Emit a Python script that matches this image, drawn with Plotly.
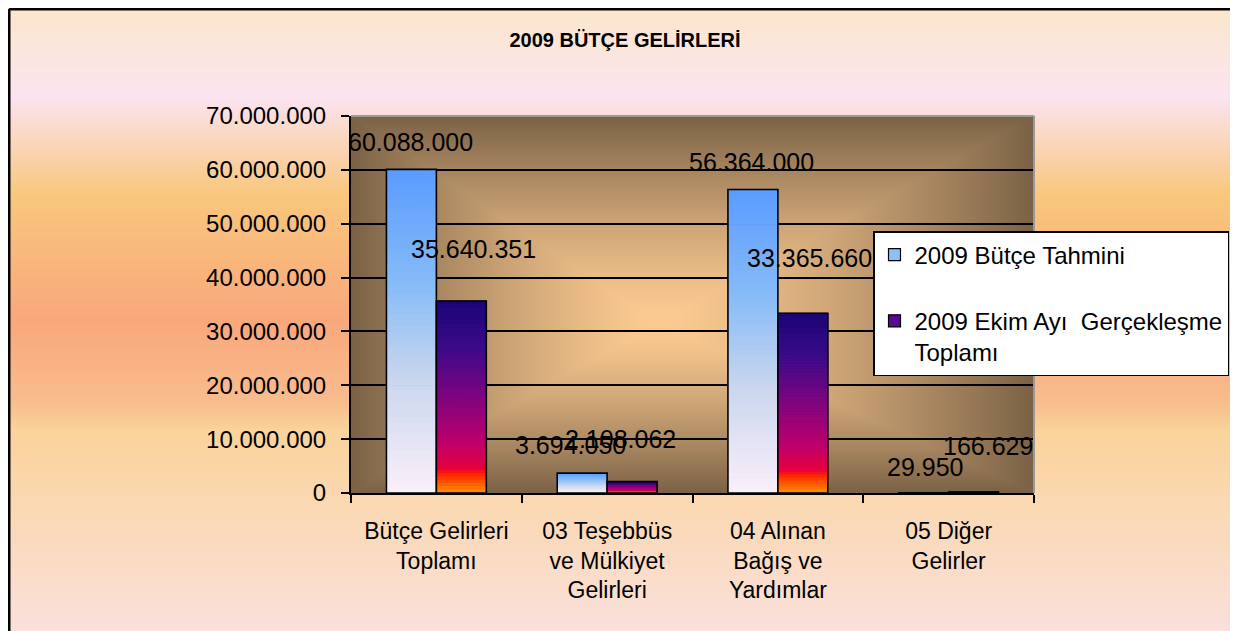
import base64
import struct
import zlib

import numpy as np
import plotly.graph_objects as go

# ---- data ----
categories = [
    "Bütçe Gelirleri<br>Toplamı",
    "03 Teşebbüs<br>ve Mülkiyet<br>Gelirleri",
    "04 Alınan<br>Bağış ve<br>Yardımlar",
    "05 Diğer<br>Gelirler",
]
budget_2009 = [60088000, 3694050, 56364000, 29950]
actual_oct_2009 = [35640351, 2108062, 33365660, 166629]
series_names = ["2009 Bütçe Tahmini", "2009 Ekim Ayı  Gerçekleşme<br>Toplamı"]
y_ticks = [0, 10000000, 20000000, 30000000, 40000000, 50000000, 60000000, 70000000]

# ---- layout (page px; the page body adds an 8px offset) ----
W, H = 1238, 631
OFF = 8
PX0, PX1, PY0, PY1 = 351, 1034, 116, 493  # plot area on page
ML, MT = PX0 - OFF, PY0 - OFF
MR, MB = W - (PX1 - OFF), H - (PY1 - OFF)
PW, PH = W - ML - MR, H - MT - MB
FONT = "Arial, Liberation Sans, sans-serif"


def fx(px):  # page x -> paper fraction
    return (px - PX0) / PW


def fy(py):  # page y -> paper fraction
    return (PY1 - py) / PH


# gradient stops (top -> bottom of each bar)
blue_stops = [(0.0, "#5a9bff"), (0.35, "#86bbf8"), (0.65, "#c9d6ee"), (1.0, "#faf0fa")]
purple_stops = [(0.0, "#1a0575"), (0.25, "#3c0a8a"), (0.5, "#7e0480"),
                (0.75, "#c0006a"), (0.88, "#e8003a"), (0.9, "#ff2000"), (1.0, "#ff9000")]

# label offsets in px relative to top of each bar (dx, dy up)
label_off_1 = [(-1, 27), (-12, 28), (-1, 27), (1, 26)]
label_off_2 = [(12, 52), (-12, 43), (7, 55), (14, 46)]


def hex_rgb(h):
    h = h.lstrip("#")
    return np.array([int(h[i:i + 2], 16) for i in (0, 2, 4)], dtype=float)


def interp(stops, f):
    for (f0, c0), (f1, c1) in zip(stops[:-1], stops[1:]):
        if f <= f1:
            t = 0 if f1 == f0 else (f - f0) / (f1 - f0)
            c = hex_rgb(c0) * (1 - t) + hex_rgb(c1) * t
            return "rgb(%d,%d,%d)" % tuple(c.round())
    c = hex_rgb(stops[-1][1])
    return "rgb(%d,%d,%d)" % tuple(c)


def png_uri(arr):
    h, w, _ = arr.shape
    arr = arr.clip(0, 255).astype(np.uint8)
    raw = b"".join(b"\x00" + arr[r].tobytes() for r in range(h))

    def chunk(tag, data):
        return (struct.pack(">I", len(data)) + tag + data
                + struct.pack(">I", zlib.crc32(tag + data) & 0xffffffff))

    png = (b"\x89PNG\r\n\x1a\n"
           + chunk(b"IHDR", struct.pack(">IIBBBBB", w, h, 8, 2, 0, 0, 0))
           + chunk(b"IDAT", zlib.compress(raw, 9))
           + chunk(b"IEND", b""))
    return "data:image/png;base64," + base64.b64encode(png).decode()


# page background: vertical pastel gradient (positions in page px)
bg_stops = [(0, "#fbe8c9"), (97, "#fce4f1"), (195, "#f9c77d"), (320, "#f9a87b"),
            (402, "#f9bd8e"), (430, "#fad49b"), (640, "#fbe1df")]
col = np.zeros((H, 1, 3))
for i in range(H):
    p = i + OFF
    for (f0, c0), (f1, c1) in zip(bg_stops[:-1], bg_stops[1:]):
        if p <= f1:
            t = (p - f0) / (f1 - f0)
            col[i, 0] = hex_rgb(c0) * (1 - t) + hex_rgb(c1) * t
            break
page_img = png_uri(np.repeat(col, 2, axis=1))

# plot area: rectangular "from centre" gradient
gx = np.linspace(0, 1, PW)[None, :]
gy = np.linspace(0, 1, PH)[:, None]
cx, cy = 0.45, 0.55
tx = np.where(gx < cx, (cx - gx) / cx, (gx - cx) / (1 - cx))
ty = np.where(gy < cy, (cy - gy) / cy, (gy - cy) / (1 - cy))
tt = (np.maximum(tx, ty) ** 1.35)[..., None]
centre, edge = hex_rgb("#fccb92"), hex_rgb("#7b6246")
plot_img = png_uri(centre * (1 - tt) + edge * tt)

fig = go.Figure()

N = 60


def gradient_bar(values, stops, group):
    xs, ys_, bases, cols = [], [], [], []
    for k in range(N):
        c = interp(stops, (k + 0.5) / N)
        for cat, v in zip(categories, values):
            xs.append(cat)
            ys_.append(v / N)
            bases.append(v * (N - k - 1) / N)
            cols.append(c)
    fig.add_trace(go.Bar(
        x=xs, y=ys_, base=bases, offsetgroup=group, showlegend=False,
        marker=dict(color=cols, line=dict(width=1, color=cols)), hoverinfo="skip",
    ))
    fig.add_trace(go.Bar(
        x=categories, y=values, offsetgroup=group, showlegend=False,
        marker=dict(color="rgba(0,0,0,0)", line=dict(color="black", width=1.6)),
    ))


gradient_bar(budget_2009, blue_stops, "a")
gradient_bar(actual_oct_2009, purple_stops, "b")

# legend entries
fig.add_trace(go.Bar(x=[None], y=[None], name=series_names[0], offsetgroup="a",
                     legendgroup="g1", marker=dict(color="#8cc0f8", line=dict(color="black", width=1.2))))
fig.add_trace(go.Bar(x=[None], y=[None], name=series_names[1], offsetgroup="b",
                     legendgroup="g2", marker=dict(color="#5a0a90", line=dict(color="black", width=1.2))))

# data labels
bar_half = 25
for vals, offs, sign in ((budget_2009, label_off_1, -1), (actual_oct_2009, label_off_2, 1)):
    for cat, v, (dx, dy) in zip(categories, vals, offs):
        fig.add_annotation(
            x=cat, y=v, xref="x", yref="y", text=f"{v:,}".replace(",", "."),
            showarrow=False, xshift=sign * bar_half + dx, yshift=dy,
            font=dict(family=FONT, size=25, color="black"), yanchor="middle",
        )

fig.update_layout(
    width=W, height=H, autosize=False,
    margin=dict(l=ML, r=MR, t=MT, b=MB),
    paper_bgcolor="#fbe8c9", plot_bgcolor="rgba(0,0,0,0)",
    separators=",.",
    barmode="group", bargap=0.415, bargroupgap=0,
    title=dict(text="<b>2009 BÜTÇE GELİRLERİ</b>", x=(625 - OFF) / W, y=1 - (40 - OFF) / H,
               xanchor="center", yanchor="middle",
               font=dict(family=FONT, size=20, color="black")),
    font=dict(family=FONT, color="black"),
    legend=dict(x=fx(873), y=fy(231), xanchor="left", yanchor="top",
                bgcolor="white", bordercolor="black", borderwidth=1.5,
                font=dict(family=FONT, size=24, color="black"),
                traceorder="grouped", tracegroupgap=32, valign="top"),
    images=[
        dict(source=page_img, xref="paper", yref="paper", x=-ML / PW, y=1 + MT / PH,
             sizex=W / PW, sizey=H / PH, sizing="stretch", layer="below",
             xanchor="left", yanchor="top"),
        dict(source=plot_img, xref="paper", yref="paper", x=0, y=1, sizex=1, sizey=1,
             sizing="stretch", layer="below", xanchor="left", yanchor="top"),
    ],
)

fig.update_yaxes(
    range=[0, 70000000], tickvals=y_ticks, tickformat=",d",
    showgrid=True, gridcolor="black", gridwidth=2, zeroline=False,
    showline=True, linecolor="black", linewidth=2,
    ticks="outside", ticklen=8, tickwidth=2, tickcolor="black",
    ticklabelstandoff=10, tickfont=dict(family=FONT, size=24, color="black"),
)
fig.update_xaxes(
    range=[-0.5, 3.5], showline=True, linecolor="black", linewidth=2,
    ticks="outside", tickson="boundaries", ticklen=8, tickwidth=2, tickcolor="black",
    ticklabelstandoff=16, tickfont=dict(family=FONT, size=23, color="black"),
    showgrid=False,
)

# plot-area rim and outer frame
fig.add_shape(type="line", xref="paper", yref="paper", x0=0, x1=1, y0=1, y1=1,
              line=dict(color="#9a9a9a", width=2))
fig.add_shape(type="line", xref="paper", yref="paper", x0=1, x1=1, y0=0, y1=1,
              line=dict(color="#9a9a9a", width=2))
left, right = -ML / PW + 1 / PW, fx(1232)
top, bottom = 1 + MT / PH - 1 / PH, -MB / PH - 0.05
fig.add_shape(type="line", xref="paper", yref="paper", x0=left, x1=left, y0=bottom, y1=top,
              line=dict(color="black", width=3))
fig.add_shape(type="line", xref="paper", yref="paper", x0=left, x1=right, y0=top, y1=top,
              line=dict(color="black", width=3))
fig.add_shape(type="line", xref="paper", yref="paper", x0=right, x1=right, y0=bottom, y1=top,
              line=dict(color="#555555", width=1))

fig.write_html("out.html")
